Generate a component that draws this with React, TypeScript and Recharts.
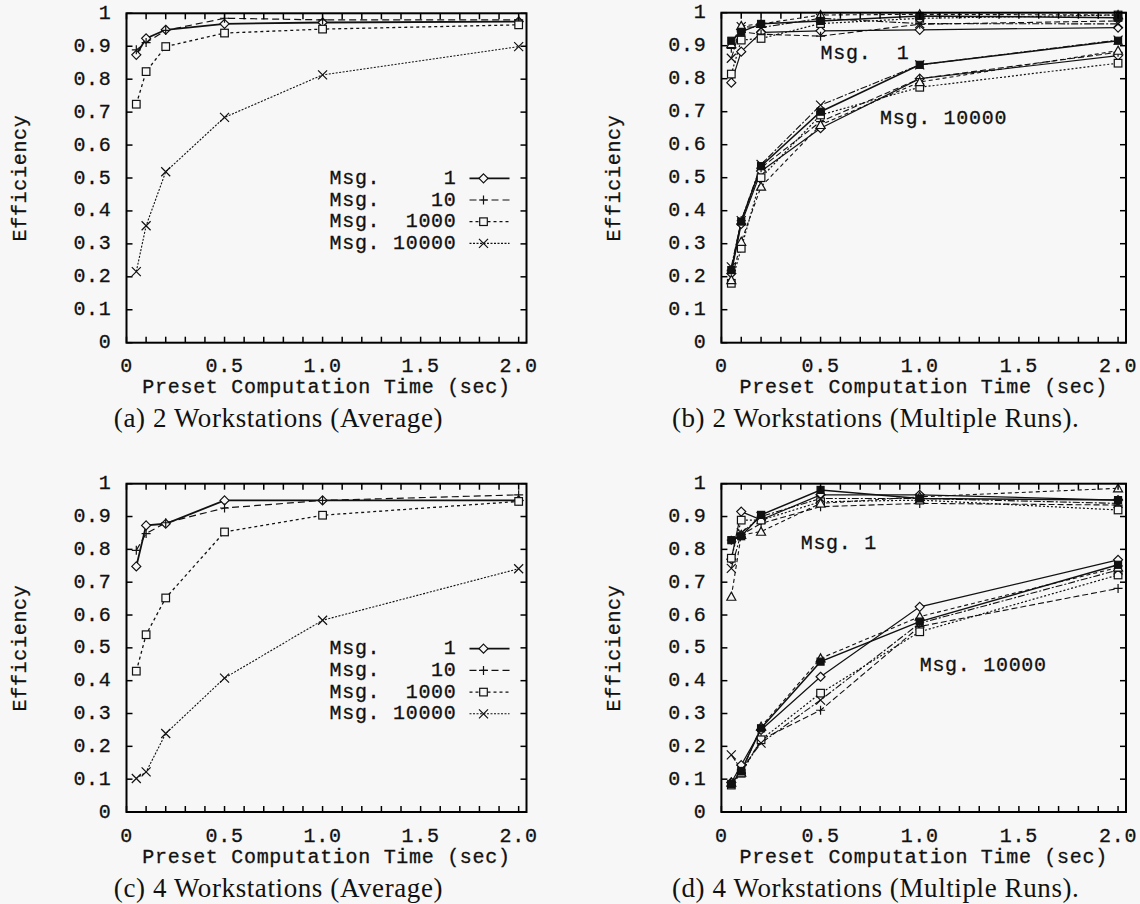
import React from "react"
import { LineChart, Line, XAxis, YAxis, ReferenceDot } from "recharts"

// preset computation time (sec)
const xValues = [0.05, 0.1, 0.2, 0.5, 1.0, 2.0]

const xTicks = [0, 0.1, 0.2, 0.3, 0.4, 0.5, 0.6, 0.7, 0.8, 0.9, 1.0, 1.1, 1.2, 1.3, 1.4, 1.5, 1.6, 1.7, 1.8, 1.9, 2.0]
const xTickLabels: Record<string, string> = { "0": "0", "0.5": "0.5", "1": "1.0", "1.5": "1.5", "2": "2.0" }
const yTicks = [0, 0.1, 0.2, 0.3, 0.4, 0.5, 0.6, 0.7, 0.8, 0.9, 1]
const yTickLabels = ["0", "0.1", "0.2", "0.3", "0.4", "0.5", "0.6", "0.7", "0.8", "0.9", "1"]
const X_MAX = 2.04

// (a) 2 workstations, average
const a2Msg1 = [0.874, 0.924, 0.95, 0.968, 0.972, 0.975]
const a2Msg10 = [0.889, 0.911, 0.948, 0.985, 0.98, 0.98]
const a2Msg1000 = [0.724, 0.823, 0.899, 0.94, 0.952, 0.965]
const a2Msg10000 = [0.216, 0.355, 0.519, 0.684, 0.813, 0.899]

// (c) 4 workstations, average
const a4Msg1 = [0.748, 0.873, 0.878, 0.949, 0.949, 0.949]
const a4Msg10 = [0.797, 0.848, 0.881, 0.926, 0.949, 0.966]
const a4Msg1000 = [0.429, 0.54, 0.652, 0.853, 0.904, 0.946]
const a4Msg10000 = [0.102, 0.122, 0.239, 0.408, 0.584, 0.741]

// (b) 2 workstations, multiple runs
const r2Msg1 = [
  [0.788, 0.882, 0.94, 0.945, 0.948, 0.955],
  [0.892, 0.942, 0.935, 0.929, 0.965, 0.975],
  [0.814, 0.917, 0.922, 0.967, 0.983, 0.993],
  [0.862, 0.958, 0.955, 0.983, 0.967, 0.966],
  [0.905, 0.96, 0.966, 0.993, 0.995, 0.993],
  [0.915, 0.942, 0.966, 0.975, 0.99, 0.985],
]
const r2Msg10000 = [
  [0.21, 0.36, 0.52, 0.65, 0.8, 0.87],
  [0.22, 0.37, 0.53, 0.67, 0.8, 0.88],
  [0.18, 0.286, 0.5, 0.69, 0.774, 0.847],
  [0.23, 0.37, 0.54, 0.72, 0.842, 0.917],
  [0.19, 0.306, 0.473, 0.66, 0.79, 0.885],
  [0.22, 0.367, 0.535, 0.7, 0.842, 0.915],
]

// (d) 4 workstations, multiple runs
const r4Msg1 = [
  [0.77, 0.915, 0.89, 0.966, 0.966, 0.95],
  [0.828, 0.844, 0.879, 0.93, 0.94, 0.935],
  [0.773, 0.889, 0.889, 0.945, 0.95, 0.92],
  [0.742, 0.85, 0.9, 0.955, 0.955, 0.94],
  [0.656, 0.844, 0.854, 0.94, 0.96, 0.986],
  [0.828, 0.84, 0.905, 0.981, 0.955, 0.95],
]
const r4Msg10000 = [
  [0.09, 0.143, 0.25, 0.412, 0.625, 0.768],
  [0.09, 0.12, 0.22, 0.31, 0.565, 0.681],
  [0.082, 0.118, 0.22, 0.362, 0.549, 0.722],
  [0.174, 0.13, 0.21, 0.341, 0.575, 0.737],
  [0.09, 0.12, 0.26, 0.468, 0.595, 0.745],
  [0.085, 0.125, 0.255, 0.458, 0.58, 0.753],
]

const avgLabels = ["Msg.     1", "Msg.    10", "Msg.  1000", "Msg. 10000"]

const INK = "#111"
const BG = "#f7f7f7"
const MONO = "'Liberation Mono', 'Courier New', monospace"
const SERIF = "'Liberation Serif', 'Times New Roman', serif"
const MONO_SIZE = 20
const MONO_SPACING = 0.7

type Series = { values: number[]; shape: string; dash: string; width: number }

const avgStyles = [
  { shape: "diamond", dash: "", width: 1.8 },
  { shape: "plus", dash: "7 4", width: 1.2 },
  { shape: "square", dash: "3 3", width: 1.3 },
  { shape: "cross", dash: "2 1.5", width: 1.1 },
]
const runStyles = [
  { shape: "diamond", dash: "", width: 1.2 },
  { shape: "plus", dash: "6 3", width: 1.1 },
  { shape: "square", dash: "2 2", width: 1.2 },
  { shape: "cross", dash: "7 2 2 2", width: 1.1 },
  { shape: "triangle", dash: "4 3", width: 1.1 },
  { shape: "fsquare", dash: "", width: 1.5 },
]

function Marker({ shape, cx, cy }: { shape: string; cx: number; cy: number }) {
  const s = 4.5
  const common = { stroke: INK, strokeWidth: 1.2 }
  switch (shape) {
    case "diamond":
      return <polygon points={`${cx},${cy - s} ${cx + s},${cy} ${cx},${cy + s} ${cx - s},${cy}`} fill={BG} {...common} />
    case "plus":
      return <path d={`M${cx - s},${cy}H${cx + s}M${cx},${cy - s}V${cy + s}`} fill="none" {...common} />
    case "square":
      return <rect x={cx - 3.8} y={cy - 3.8} width={7.6} height={7.6} fill={BG} {...common} />
    case "fsquare":
      return <rect x={cx - 3.5} y={cy - 3.5} width={7} height={7} fill={INK} {...common} />
    case "triangle":
      return <polygon points={`${cx},${cy - s} ${cx + s},${cy + s * 0.8} ${cx - s},${cy + s * 0.8}`} fill={BG} {...common} />
    case "cross":
      return <path d={`M${cx - s},${cy - s}L${cx + s},${cy + s}M${cx - s},${cy + s}L${cx + s},${cy - s}`} fill="none" {...common} />
    default:
      return <path d={`M${cx - s},${cy}H${cx + s}M${cx},${cy - s}V${cy + s}M${cx - 3},${cy - 3}L${cx + 3},${cy + 3}M${cx - 3},${cy + 3}L${cx + 3},${cy - 3}`} fill="none" {...common} />
  }
}

const dotFor = (shape: string) => (p: any) => (
  <Marker key={`${shape}-${p.index}`} shape={shape} cx={p.cx} cy={p.cy} />
)

const monoText = {
  fontFamily: MONO,
  fontSize: MONO_SIZE,
  letterSpacing: MONO_SPACING,
  fill: INK,
  stroke: INK,
  strokeWidth: 0.3,
  style: { whiteSpace: "pre" as const },
}

const monoDiv = {
  fontFamily: MONO,
  fontSize: MONO_SIZE,
  letterSpacing: MONO_SPACING,
  color: INK,
  WebkitTextStroke: "0.3px #111",
  whiteSpace: "pre" as const,
  lineHeight: 1,
}

const noteLabel = (text: string) => (p: any) => (
  <text x={p.viewBox.x} y={p.viewBox.y} dominantBaseline="central" {...monoText}>
    {text}
  </text>
)

type Note = { x: number; y: number; text: string }

type PanelProps = {
  left: number
  top: number
  plotLeft: number
  plotRight: number
  plotTop: number
  plotBottom: number
  series: Series[]
  legend?: string[]
  notes?: Note[]
  caption: string
}

const W = 570
const H = 452
const TICK = 6

function Panel({ left, top, plotLeft, plotRight, plotTop, plotBottom, series, legend, notes, caption }: PanelProps) {
  const data = xValues.map((x, i) => {
    const row: Record<string, number> = { x }
    series.forEach((s, k) => (row[`s${k}`] = s.values[i]))
    return row
  })
  const margin = { left: plotLeft - 70, right: W - plotRight, top: plotTop, bottom: H - plotBottom - 40 }
  const cxPlot = (plotLeft + plotRight) / 2
  const cyPlot = (plotTop + plotBottom) / 2
  const toX = (v: number) => plotLeft + (v / X_MAX) * (plotRight - plotLeft)
  const toY = (v: number) => plotBottom - v * (plotBottom - plotTop)

  const XTick = (p: any) => {
    const label = xTickLabels[String(p.payload.value)]
    return label ? (
      <text x={p.x} y={plotBottom + 24} textAnchor="middle" dominantBaseline="central" {...monoText}>
        {label}
      </text>
    ) : (
      <g />
    )
  }
  const YTick = (p: any) => (
    <text x={plotLeft - 15} y={p.y} textAnchor="end" dominantBaseline="central" {...monoText}>
      {yTickLabels[p.index]}
    </text>
  )

  return (
    <div style={{ position: "absolute", left, top, width: W, height: H }}>
      <LineChart width={W} height={H} data={data} margin={margin}>
        <XAxis
          type="number"
          dataKey="x"
          domain={[0, X_MAX]}
          ticks={xTicks}
          interval={0}
          height={40}
          tickSize={0}
          tickMargin={0}
          tick={XTick}
          axisLine={false}
          tickLine={false}
        />
        <YAxis
          type="number"
          domain={[0, 1]}
          ticks={yTicks}
          interval={0}
          width={70}
          tickSize={0}
          tickMargin={0}
          tick={YTick}
          axisLine={false}
          tickLine={false}
        />
        {series.map((s, k) => (
          <Line
            key={k}
            type="linear"
            dataKey={`s${k}`}
            stroke={INK}
            strokeWidth={s.width}
            strokeDasharray={s.dash || undefined}
            dot={dotFor(s.shape)}
            activeDot={false}
            isAnimationActive={false}
          />
        ))}
        {(notes ?? []).map((n, k) => (
          <ReferenceDot key={`n${k}`} x={n.x} y={n.y} r={0} fill="none" stroke="none" label={noteLabel(n.text)} />
        ))}
      </LineChart>

      {/* plot frame with inward ticks on all four sides */}
      <svg width={W} height={H} style={{ position: "absolute", left: 0, top: 0, pointerEvents: "none" }}>
        <rect
          x={plotLeft}
          y={plotTop}
          width={plotRight - plotLeft}
          height={plotBottom - plotTop}
          fill="none"
          stroke="#000"
          strokeWidth={2}
        />
        {xTicks.map((t) => (
          <g key={`xt${t}`}>
            <line x1={toX(t)} x2={toX(t)} y1={plotBottom} y2={plotBottom - TICK} stroke="#000" strokeWidth={1.5} />
            <line x1={toX(t)} x2={toX(t)} y1={plotTop} y2={plotTop + TICK} stroke="#000" strokeWidth={1.5} />
          </g>
        ))}
        {yTicks.map((t) => (
          <g key={`yt${t}`}>
            <line x1={plotLeft} x2={plotLeft + TICK} y1={toY(t)} y2={toY(t)} stroke="#000" strokeWidth={1.5} />
            <line x1={plotRight} x2={plotRight - TICK} y1={toY(t)} y2={toY(t)} stroke="#000" strokeWidth={1.5} />
          </g>
        ))}
        {legend &&
          legend.map((label, k) => {
            const y = plotTop + 165 + k * 21.7
            const st = series[k]
            return (
              <g key={k}>
                <text x={plotLeft + 203} y={y} dominantBaseline="central" {...monoText}>
                  {label}
                </text>
                <line
                  x1={plotLeft + 343}
                  x2={plotLeft + 383}
                  y1={y}
                  y2={y}
                  stroke={INK}
                  strokeWidth={st.width}
                  strokeDasharray={st.dash || undefined}
                />
                <Marker shape={st.shape} cx={plotLeft + 357} cy={y} />
              </g>
            )
          })}
      </svg>

      <div
        style={{
          ...monoDiv,
          position: "absolute",
          left: cxPlot,
          top: plotBottom + 45.5,
          transform: "translate(-50%, -50%)",
        }}
      >
        Preset Computation Time (sec)
      </div>
      <div
        style={{
          ...monoDiv,
          position: "absolute",
          left: plotLeft - 106,
          top: cyPlot,
          transform: "translate(-50%, -50%) rotate(-90deg)",
        }}
      >
        Efficiency
      </div>
      <div
        style={{
          position: "absolute",
          left: cxPlot - 48,
          top: plotBottom + 75.5,
          transform: "translate(-50%, -50%)",
          fontFamily: SERIF,
          fontSize: 27,
          letterSpacing: 0.6,
          color: INK,
          whiteSpace: "pre",
          lineHeight: 1,
        }}
      >
        {caption}
      </div>
    </div>
  )
}

const withStyles = (values: number[][], styles: typeof runStyles): Series[] =>
  values.map((v, i) => ({ values: v, ...styles[i % styles.length] }))

export default function App() {
  const aSeries = withStyles([a2Msg1, a2Msg10, a2Msg1000, a2Msg10000], avgStyles)
  const cSeries = withStyles([a4Msg1, a4Msg10, a4Msg1000, a4Msg10000], avgStyles)
  const bSeries = [...withStyles(r2Msg1, runStyles), ...withStyles(r2Msg10000, runStyles)]
  const dSeries = [...withStyles(r4Msg1, runStyles), ...withStyles(r4Msg10000, runStyles)]

  return (
    <div style={{ position: "absolute", left: 0, top: 0, width: 1140, height: 904, background: BG, overflow: "hidden" }}>
      <Panel
        left={0}
        top={0}
        plotLeft={126.5}
        plotRight={526.5}
        plotTop={13.3}
        plotBottom={342.7}
        series={aSeries}
        legend={avgLabels}
        caption="(a) 2 Workstations (Average)"
      />
      <Panel
        left={570}
        top={0}
        plotLeft={151.4}
        plotRight={556}
        plotTop={12.7}
        plotBottom={342.7}
        series={bSeries}
        notes={[
          { x: 0.5, y: 0.877, text: "Msg.  1" },
          { x: 0.8, y: 0.68, text: "Msg. 10000" },
        ]}
        caption="(b) 2 Workstations (Multiple Runs)."
      />
      <Panel
        left={0}
        top={452}
        plotLeft={126.5}
        plotRight={526.5}
        plotTop={31.7}
        plotBottom={360}
        series={cSeries}
        legend={avgLabels}
        caption="(c) 4 Workstations (Average)"
      />
      <Panel
        left={570}
        top={452}
        plotLeft={151.4}
        plotRight={556}
        plotTop={31.7}
        plotBottom={360}
        series={dSeries}
        notes={[
          { x: 0.4, y: 0.817, text: "Msg. 1" },
          { x: 1.0, y: 0.447, text: "Msg. 10000" },
        ]}
        caption="(d) 4 Workstations (Multiple Runs)."
      />
    </div>
  )
}
